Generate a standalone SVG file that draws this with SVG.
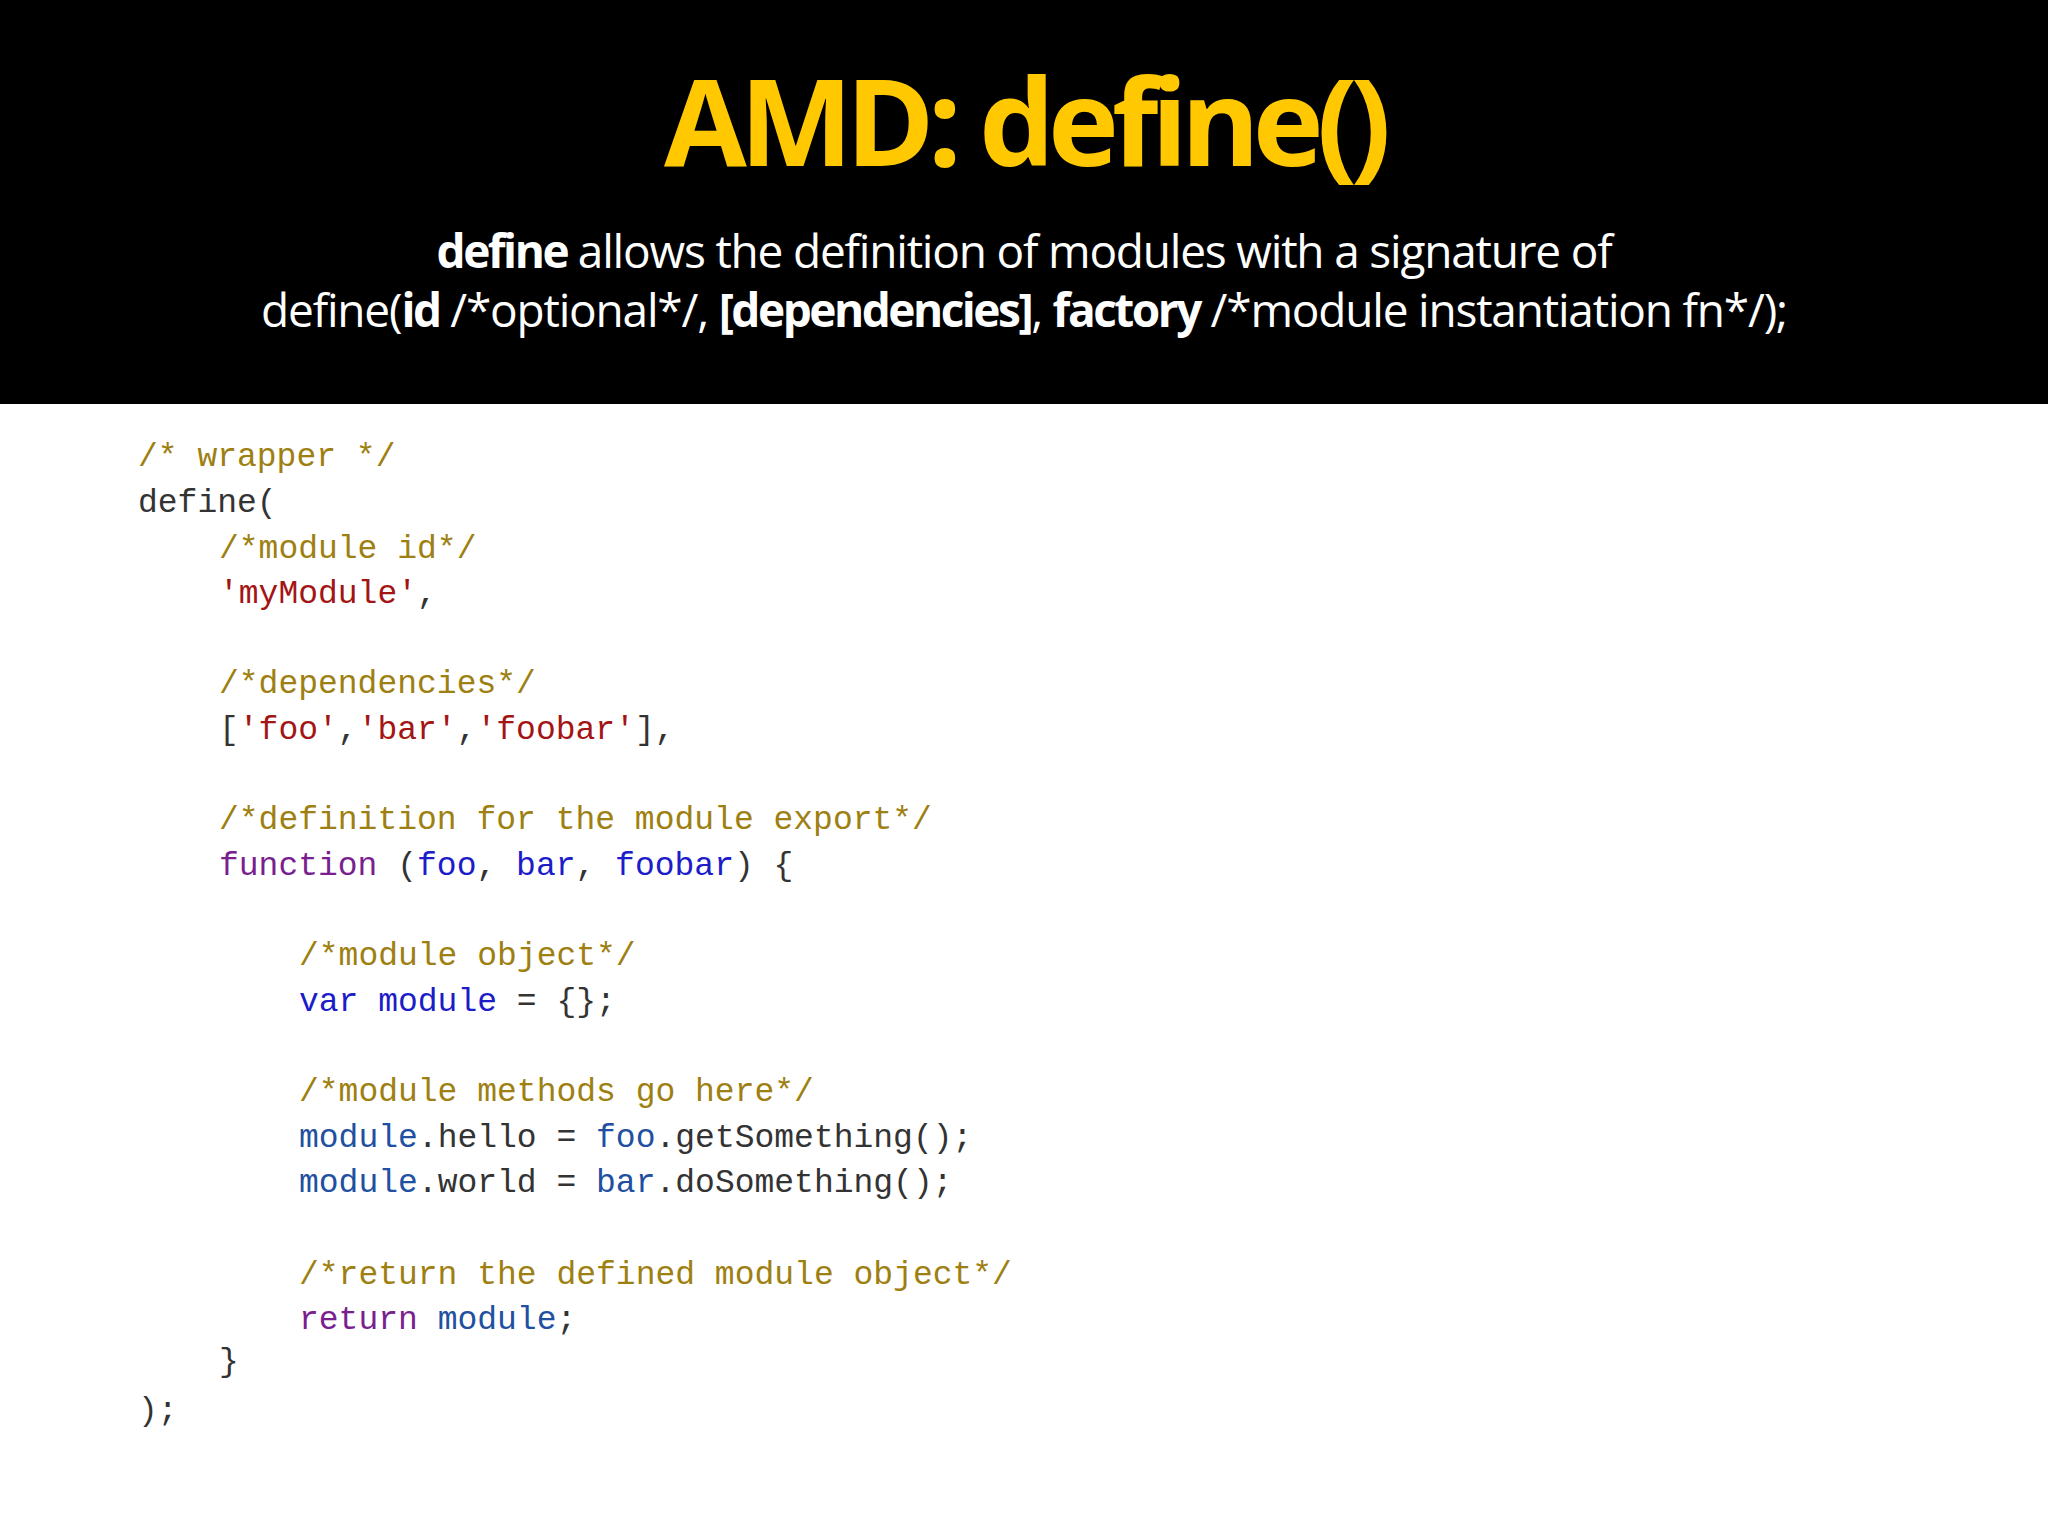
<svg xmlns="http://www.w3.org/2000/svg" width="2048" height="1536" viewBox="0 0 2048 1536">
<style>
.t{font-family:"Open Sans","Liberation Sans",sans-serif;font-weight:bold;fill:#FFC800;font-size:120px;letter-spacing:-7px}
.s{font-family:"Open Sans","Liberation Sans",sans-serif;fill:#fff;font-size:46px;letter-spacing:-1.2px}
.b{font-weight:bold;letter-spacing:-2.5px}
.c{font-family:"Liberation Mono","DejaVu Sans Mono",monospace;font-size:33px;fill:#333}
.cm{fill:#9E7F12}.st{fill:#A31515}.kw{fill:#7A1F8F}.v{fill:#1C1CC8}.m{fill:#2150A0}
</style>
<rect x="0" y="0" width="2048" height="404" fill="#000"/>
<g id="header">
<text class="t" x="1024" y="166" text-anchor="middle">AMD: define()</text>
<text class="s" x="1024" y="268" text-anchor="middle"><tspan class="b">define</tspan> allows the definition of modules with a signature of</text>
<text class="s" x="1024" y="327" text-anchor="middle">define(<tspan class="b">id</tspan> /*optional*/, <tspan class="b">[dependencies]</tspan>, <tspan class="b">factory</tspan> /*module instantiation fn*/);</text>
</g>
<g id="code" class="c" xml:space="preserve">
<text x="138" y="466" class="cm">/* wrapper */</text>
<text x="138" y="512">define(</text>
<text x="219" y="558" class="cm">/*module id*/</text>
<text x="219" y="603"><tspan class="st">'myModule'</tspan>,</text>
<text x="219" y="693" class="cm">/*dependencies*/</text>
<text x="219" y="739">[<tspan class="st">'foo'</tspan>,<tspan class="st">'bar'</tspan>,<tspan class="st">'foobar'</tspan>],</text>
<text x="219" y="829" class="cm">/*definition for the module export*/</text>
<text x="219" y="875"><tspan class="kw">function</tspan> (<tspan class="v">foo</tspan>, <tspan class="v">bar</tspan>, <tspan class="v">foobar</tspan>) {</text>
<text x="299" y="965" class="cm">/*module object*/</text>
<text x="299" y="1011"><tspan class="v">var module</tspan> = {};</text>
<text x="299" y="1101" class="cm">/*module methods go here*/</text>
<text x="299" y="1147"><tspan class="m">module</tspan>.hello = <tspan class="m">foo</tspan>.getSomething();</text>
<text x="299" y="1192"><tspan class="m">module</tspan>.world = <tspan class="m">bar</tspan>.doSomething();</text>
<text x="299" y="1284" class="cm">/*return the defined module object*/</text>
<text x="299" y="1329"><tspan class="kw">return</tspan> <tspan class="m">module</tspan>;</text>
<text x="219" y="1371">}</text>
<text x="138" y="1420">);</text>
</g>
<g id="connectors"/>
</svg>
